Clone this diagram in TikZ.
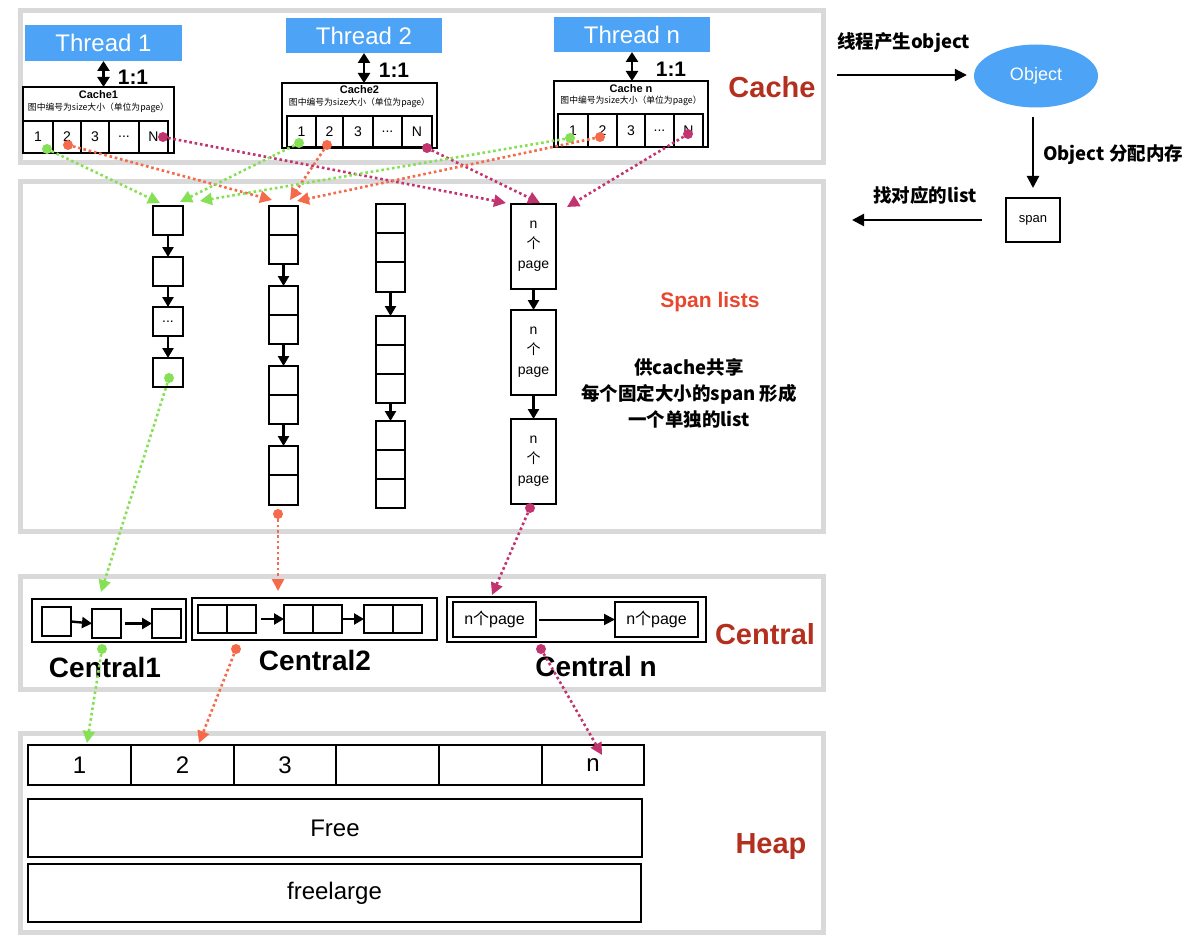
\documentclass[tikz,border=0pt]{standalone}
\usepackage{fontspec}
\setmainfont{Liberation Sans}
\newfontfamily\cjk{Noto Sans CJK SC}
\usetikzlibrary{arrows.meta,shapes.geometric}
\definecolor{tblue}{HTML}{4DA3F5}
\definecolor{dred}{HTML}{B3301F}
\definecolor{sred}{HTML}{E8462D}
\definecolor{cgreen}{HTML}{86E055}
\definecolor{corange}{HTML}{F46A4B}
\definecolor{cmag}{HTML}{C2346F}
\definecolor{panelgray}{HTML}{D9D9D9}
\newcommand\rb[7][]{\node[anchor=north west,inner sep=0pt,outer sep=0pt,minimum width={(#4-#2)*1pt},minimum height={(#5-#3)*1pt},#1] (#6) at (#2,#3) {#7};}
\tikzset{
  panel/.style={draw=panelgray, line width=5pt},
  box/.style={draw=black, line width=1.4pt, align=center},
  sbox/.style={draw=black, line width=1.6pt, align=center},
  hbox/.style={draw=black, line width=2.2pt, font=\fontsize{24}{28}\selectfont},
  thread/.style={fill=tblue, text=white, font=\fontsize{24}{28}\selectfont},
  cell/.style={font=\fontsize{14}{16}\selectfont},
  ctitle/.style={font=\bfseries\fontsize{11}{13}\selectfont, inner sep=0pt},
  csub/.style={font=\cjk\fontsize{8.8}{10}\selectfont, inner sep=0pt},
  ratio/.style={font=\bfseries\fontsize{21}{24}\selectfont, inner sep=0pt},
  seclabel/.style={font=\bfseries\fontsize{29}{32}\selectfont, text=dred, inner sep=0pt},
  cenlabel/.style={font=\bfseries\fontsize{28}{32}\selectfont, inner sep=0pt},
  cjklbl/.style={font=\cjk\bfseries\fontsize{18.5}{22}\selectfont, inner sep=0pt},
  barr/.style={line width=2.2pt, -{Triangle[length=12pt,width=12pt]}},
  dbl/.style={line width=2.6pt, {Triangle[length=10pt,width=12pt]}-{Triangle[length=10pt,width=12pt]}},
  sarr/.style={line width=2.4pt, -{Triangle[length=10pt,width=11pt]}},
  conn/.style={draw=#1, line width=2.6pt, dash pattern=on 2.6pt off 2.8pt, -{Triangle[length=12pt,width=12pt]}},
  dot/.style={circle, fill=#1, minimum size=10pt, inner sep=0pt},
}
\begin{document}
\begin{tikzpicture}[x=1pt,y=-1pt]
\useasboundingbox (0,0) rectangle (1200,947);
% panels
\rb[panel]{20}{11}{823}{163}{pcache}{}
\rb[panel]{20}{182}{823}{531}{pspan}{}
\rb[panel]{20}{576}{823}{689}{pcentral}{}
\rb[panel]{20}{733}{823}{932}{pheap}{}
% threads
\rb[thread]{25}{25}{182}{61}{t1}{Thread 1}
\rb[thread]{286}{18}{442}{53}{t2}{Thread 2}
\rb[thread]{554}{17}{710}{52}{tn}{Thread n}
% caches
\rb[box]{23}{87}{174}{153}{ca1}{}
\node[ctitle] (ca1t) at (98.5,95) {Cache1};
\node[csub] (ca1s) at (98.5,108) {图中编号为size大小（单位为page）};
\rb[box,cell]{23}{121}{53}{153}{ca1c1}{1}
\rb[box,cell]{53}{121}{81}{153}{ca1c2}{2}
\rb[box,cell]{81}{121}{109}{153}{ca1c3}{3}
\rb[box,cell]{109}{121}{139}{153}{ca1c4}{...}
\rb[box,cell]{139}{121}{168}{153}{ca1c5}{N}
\rb[box]{282}{83}{437}{148}{ca2}{}
\node[ctitle] (ca2t) at (359.5,90) {Cache2};
\node[csub] (ca2s) at (359.5,103) {图中编号为size大小（单位为page）};
\rb[box,cell]{287}{116}{316}{147}{ca2c1}{1}
\rb[box,cell]{316}{116}{343}{147}{ca2c2}{2}
\rb[box,cell]{343}{116}{373}{147}{ca2c3}{3}
\rb[box,cell]{373}{116}{402}{147}{ca2c4}{...}
\rb[box,cell]{402}{116}{432}{147}{ca2c5}{N}
\rb[box]{554}{81}{708}{147}{can}{}
\node[ctitle] (cant) at (631,89) {Cache n};
\node[csub] (cans) at (631,101) {图中编号为size大小（单位为page）};
\rb[box,cell]{558}{114}{588}{147}{canc1}{1}
\rb[box,cell]{588}{114}{617}{147}{canc2}{2}
\rb[box,cell]{617}{114}{645}{147}{canc3}{3}
\rb[box,cell]{645}{114}{674}{147}{canc4}{...}
\rb[box,cell]{674}{114}{703}{147}{canc5}{N}
% 1:1
\draw[dbl] (t1.south) -- (t1.south |- ca1.north);
\draw[dbl] (t2.south) -- (t2.south |- ca2.north);
\draw[dbl] (tn.south) -- (tn.south |- can.north);
\node[ratio] (r1) at (133,77) {1:1};
\node[ratio] (r2) at (394,70) {1:1};
\node[ratio] (rn) at (671,69) {1:1};
\node[seclabel] (lcache) at (772,87) {Cache};
% right side
\node[cjklbl, anchor=west] (lobj) at (837,43) {线程产生object};
\coordinate (as) at (837,75);
\node[ellipse, fill=tblue, text=white, minimum width=124pt, minimum height=63pt, inner sep=0pt, font=\fontsize{18}{20}\selectfont] (obj) at (1036,76) {Object};
\draw[barr, shorten >=7pt] (as) -- (as -| obj.west);
\rb[box, font=\fontsize{13}{15}\selectfont]{1006}{198}{1060}{242}{span}{span}
\draw[barr, shorten <=9pt, shorten >=10pt] (span.north |- obj.south) -- (span.north);
\node[cjklbl, anchor=west] (lalloc) at (1043,155) {Object 分配内存};
\coordinate (al) at (852,220);
\draw[barr, shorten <=24pt] (span.west) -- (al);
\node[cjklbl, anchor=west] (lfind) at (873,195) {找对应的list};
% span lists col 1
\rb[sbox]{153}{206}{183}{235}{sa1}{}
\rb[sbox]{153}{257}{183}{286}{sa2}{}
\rb[sbox, cell]{153}{307}{183}{336}{sa3}{...}
\rb[sbox]{153}{358}{183}{387}{sa4}{}
\draw[sarr] (sa1.south) -- (sa2.north);
\draw[sarr] (sa2.south) -- (sa3.north);
\draw[sarr] (sa3.south) -- (sa4.north);
% col 2
\rb[sbox]{269}{206}{298}{235}{sb1}{}
\rb[sbox]{269}{235}{298}{264}{sb2}{}
\rb[sbox]{269}{286}{298}{315}{sb3}{}
\rb[sbox]{269}{315}{298}{344}{sb4}{}
\rb[sbox]{269}{366}{298}{395}{sb5}{}
\rb[sbox]{269}{395}{298}{424}{sb6}{}
\rb[sbox]{269}{446}{298}{475}{sb7}{}
\rb[sbox]{269}{475}{298}{505}{sb8}{}
\draw[sarr] (sb2.south) -- (sb3.north);
\draw[sarr] (sb4.south) -- (sb5.north);
\draw[sarr] (sb6.south) -- (sb7.north);
% col 3
\rb[sbox]{376}{204}{405}{233}{sc1}{}
\rb[sbox]{376}{233}{405}{262}{sc2}{}
\rb[sbox]{376}{262}{405}{292}{sc3}{}
\rb[sbox]{376}{316}{405}{345}{sc4}{}
\rb[sbox]{376}{345}{405}{374}{sc5}{}
\rb[sbox]{376}{374}{405}{403}{sc6}{}
\rb[sbox]{376}{421}{405}{450}{sc7}{}
\rb[sbox]{376}{450}{405}{479}{sc8}{}
\rb[sbox]{376}{479}{405}{508}{sc9}{}
\draw[sarr] (sc3.south) -- (sc4.north);
\draw[sarr] (sc6.south) -- (sc7.north);
% col 4
\rb[sbox, font=\fontsize{14}{20}\selectfont]{511}{204}{556}{289}{sd1}{n\\{\cjk 个}\\page}
\rb[sbox, font=\fontsize{14}{20}\selectfont]{511}{310}{556}{395}{sd2}{n\\{\cjk 个}\\page}
\rb[sbox, font=\fontsize{14}{20}\selectfont]{511}{419}{556}{504}{sd3}{n\\{\cjk 个}\\page}
\draw[sarr] (sd1.south) -- (sd2.north);
\draw[sarr] (sd2.south) -- (sd3.north);
\node[font=\bfseries\fontsize{21}{24}\selectfont, text=sred, inner sep=0pt] (lspan) at (710,302) {Span lists};
\node[cjklbl, align=center, font=\cjk\bfseries\fontsize{18.5}{26}\selectfont] (ldesc) at (689,393) {供cache共享\\每个固定大小的span 形成\\一个单独的list};
% central
\rb[box]{32}{599}{186}{642}{ce1}{}
\rb[box]{42}{607}{71}{636}{ce1a}{}
\rb[box]{92}{609}{121}{638}{ce1b}{}
\rb[box]{152}{609}{181}{638}{ce1c}{}
\draw[sarr] (ce1a.east) -- (ce1b.west);
\draw[sarr, shorten <=4pt] (ce1b.east) -- (ce1c.west);
\node[cenlabel] (lce1) at (105,667) {Central1};
\rb[box]{192}{598}{437}{640}{ce2}{}
\rb[box]{198}{605}{227}{633}{ce2a}{}
\rb[box]{227}{605}{256}{633}{ce2b}{}
\rb[box]{284}{605}{313}{633}{ce2c}{}
\rb[box]{313}{605}{342}{633}{ce2d}{}
\rb[box]{364}{605}{393}{633}{ce2e}{}
\rb[box]{393}{605}{422}{633}{ce2f}{}
\draw[sarr, shorten <=5pt] (ce2b.east) -- (ce2c.west);
\draw[sarr] (ce2d.east) -- (ce2e.west);
\node[cenlabel] (lce2) at (315,660) {Central2};
\rb[box]{447}{597}{706}{642}{cen}{}
\rb[box, font=\fontsize{16}{18}\selectfont]{453}{602}{536}{637}{cena}{n{\cjk 个}page}
\rb[box, font=\fontsize{16}{18}\selectfont]{615}{602}{698}{637}{cenb}{n{\cjk 个}page}
\draw[line width=2pt, -{Triangle[length=11pt,width=11pt]}, shorten <=3pt] (cena.east) -- (cenb.west);
\node[cenlabel] (lcen) at (596,666) {Central n};
\node[seclabel] (lcentral) at (765,634) {Central};
% heap
\rb[hbox]{28}{745}{131}{785}{h1}{1}
\rb[hbox]{131}{745}{234}{785}{h2}{2}
\rb[hbox]{234}{745}{336}{785}{h3}{3}
\rb[hbox]{336}{745}{439}{785}{h4}{}
\rb[hbox]{439}{745}{542}{785}{h5}{}
\rb[hbox]{542}{745}{644}{785}{h6}{n}
\rb[hbox]{28}{799}{642}{857}{hfree}{Free}
\rb[hbox]{28}{864}{641}{922}{hlarge}{freelarge}
\node[seclabel] (lheap) at (771,847) {Heap};
% dotted connectors
\coordinate (g1e) at (160,203);
\coordinate (g2e) at (180,202);
\coordinate (g3e) at (200,201);
\coordinate (g4e) at (101,592);
\coordinate (g5e) at (87,743);
\coordinate (o1e) at (272,200);
\coordinate (o2e) at (290,200);
\coordinate (o3e) at (297,201);
\coordinate (o4e) at (278,591);
\coordinate (o5e) at (199,743);
\coordinate (m1e) at (506,203);
\coordinate (m2e) at (540,203);
\coordinate (m3e) at (567,207);
\coordinate (m4e) at (492,595);
\coordinate (m5e) at (602,755);
\node[dot=cgreen] (g1d) at (47,149) {};
\node[dot=cgreen] (g2d) at (299,143) {};
\node[dot=cgreen] (g3d) at (570,138) {};
\node[dot=cgreen] (g4d) at (169,378) {};
\node[dot=cgreen] (g5d) at (102,649) {};
\node[dot=corange] (o1d) at (68,145) {};
\node[dot=corange] (o2d) at (327,145) {};
\node[dot=corange] (o3d) at (600,137) {};
\node[dot=corange] (o4d) at (278,514) {};
\node[dot=corange] (o5d) at (236,649) {};
\node[dot=cmag] (m1d) at (163,137) {};
\node[dot=cmag] (m2d) at (427,148) {};
\node[dot=cmag] (m3d) at (688,134) {};
\node[dot=cmag] (m4d) at (530,508) {};
\node[dot=cmag] (m5d) at (541,649) {};
\foreach \n in {1,...,5} {
  \draw[conn=cgreen] (g\n d) -- (g\n e);
  \draw[conn=corange] (o\n d) -- (o\n e);
  \draw[conn=cmag] (m\n d) -- (m\n e);
}
\end{tikzpicture}
\end{document}
